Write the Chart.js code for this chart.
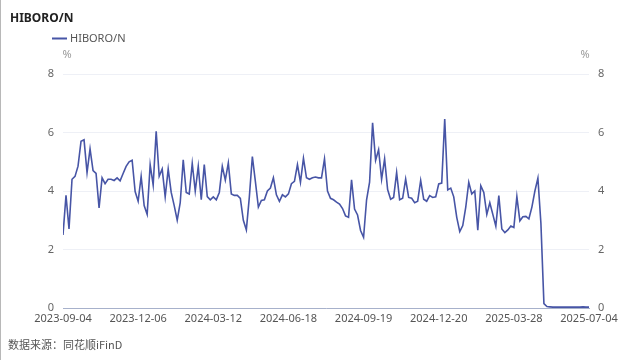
<!DOCTYPE html>
<html>
<head>
<meta charset="utf-8">
<script src="https://cdn.jsdelivr.net/npm/chart.js@4/dist/chart.umd.min.js"></script>
<style>
  html, body { margin: 0; padding: 0; background: #fff; }
  #wrap { position: relative; width: 640px; height: 360px; box-sizing: border-box; border-left: 1px solid #b8b8b8; }
</style>
</head>
<body>
<div id="wrap"><canvas id="grafico" width="639" height="360"></canvas></div>
<script>
// 数据：HIBORO/N（%），每个点对应约 3 个交易日
const seriesName = "HIBORO/N";
const tickLabels = ["2023-09-04", "2023-12-06", "2024-03-12", "2024-06-18",
                    "2024-09-19", "2024-12-20", "2025-03-28", "2025-07-04"];
const hiboroValues = [
  2.5, 3.85, 2.7, 4.4, 4.5, 4.85, 5.7, 5.75, 4.63, 5.44,
  4.7, 4.6, 3.42, 4.45, 4.25, 4.4, 4.4, 4.36, 4.45, 4.35,
  4.6, 4.84, 5.0, 5.05, 3.98, 3.65, 4.5, 3.5, 3.2, 4.9,
  4.2, 6.04, 4.5, 4.75, 3.8, 4.75, 3.95, 3.5, 3.0, 3.6,
  5.07, 3.95, 3.9, 4.94, 4.0, 4.84, 3.7, 4.9, 3.81, 3.7,
  3.8, 3.7, 3.95, 4.84, 4.37, 4.96, 3.9, 3.85, 3.85, 3.75,
  3.0, 2.67, 3.8, 5.18, 4.33, 3.45, 3.68, 3.7, 4.0, 4.1,
  4.45, 3.87, 3.65, 3.87, 3.8, 3.9, 4.25, 4.33, 4.9, 4.3,
  5.12, 4.45, 4.4, 4.45, 4.48, 4.45, 4.45, 5.1, 4.0, 3.75,
  3.7, 3.62, 3.55, 3.4, 3.15, 3.1, 4.38, 3.38, 3.18, 2.65,
  2.42, 3.7, 4.3, 6.33, 5.05, 5.41, 4.4, 5.1, 4.05, 3.72,
  3.78, 4.63, 3.7, 3.75, 4.41, 3.78, 3.75, 3.6, 3.65, 4.36,
  3.72, 3.65, 3.84, 3.78, 3.8, 4.24, 4.27, 6.46, 4.04, 4.1,
  3.8, 3.1, 2.61, 2.82, 3.45, 4.3, 3.9, 4.0, 2.66, 4.18,
  3.95, 3.2, 3.6, 3.2, 2.8, 3.84, 2.7, 2.58, 2.67, 2.8,
  2.75, 3.81, 2.98, 3.12, 3.13, 3.05, 3.45, 4.0, 4.44, 2.9,
  0.15, 0.05, 0.04, 0.03, 0.03, 0.03, 0.03, 0.03, 0.03, 0.03,
  0.03, 0.03, 0.03, 0.04, 0.03, 0.03
];
const yTicks = [0, 2, 4, 6, 8];
const sourceText = "数据来源：同花顺iFinD";

const lineColor = "#4755a6";
const step = (hiboroValues.length - 1) / (tickLabels.length - 1);

Chart.defaults.font.family = "'Noto Sans', 'Noto Sans CJK SC', sans-serif";
Chart.defaults.font.size = 11;

// 标题、图例、单位和数据来源直接画在画布上
const textoExtra = {
  id: "textoExtra",
  afterDraw(chart) {
    const ctx = chart.ctx;
    const area = chart.chartArea;
    ctx.save();
    ctx.textBaseline = "middle";
    ctx.font = "bold 12px 'Noto Sans', sans-serif";
    ctx.fillStyle = "#222";
    ctx.textAlign = "left";
    ctx.fillText(seriesName, 9, 19);

    ctx.strokeStyle = lineColor;
    ctx.lineWidth = 2;
    ctx.beginPath();
    ctx.moveTo(51, 38.5);
    ctx.lineTo(66, 38.5);
    ctx.stroke();
    ctx.font = "11px 'Noto Sans', sans-serif";
    ctx.fillStyle = "#555";
    ctx.fillText(seriesName, 69, 39);

    ctx.fillStyle = "#999";
    ctx.textAlign = "center";
    ctx.fillText("%", area.left + 4, 55);
    ctx.fillText("%", area.right - 4, 55);

    ctx.textAlign = "left";
    ctx.fillStyle = "#555";
    ctx.font = "11px 'Noto Sans CJK SC', 'Noto Sans', sans-serif";
    ctx.fillText(sourceText, 7, 345);
    ctx.restore();
  }
};

const yTickOpts = {
  color: "#666",
  padding: 9,
  stepSize: 2,
  callback: v => (yTicks.includes(v) ? v : "")
};

new Chart(document.getElementById("grafico"), {
  type: "line",
  data: {
    datasets: [{
      label: seriesName,
      data: hiboroValues.map((v, i) => ({ x: i, y: v })),
      borderColor: lineColor,
      borderWidth: 1.6,
      pointRadius: 0,
      tension: 0,
      fill: false
    }]
  },
  options: {
    responsive: false,
    animation: false,
    layout: { padding: { top: 74, left: 0, right: 0, bottom: 0 } },
    plugins: {
      legend: { display: false },
      title: { display: false },
      tooltip: { enabled: false }
    },
    scales: {
      x: {
        type: "linear",
        min: 0,
        max: hiboroValues.length - 1,
        afterFit: s => { s.height = 52; },
        grid: { display: false, drawTicks: false },
        border: { display: true, color: "#a7b1cb", width: 1 },
        ticks: {
          stepSize: step,
          autoSkip: false,
          maxRotation: 0,
          color: "#555",
          padding: 4,
          callback: v => tickLabels[Math.round(v / step)] || ""
        }
      },
      y: {
        position: "left",
        min: 0,
        max: 8,
        afterFit: s => { s.width = 62; },
        grid: { color: "#eef0f6", drawTicks: false },
        border: { display: false },
        ticks: yTickOpts
      },
      y2: {
        position: "right",
        min: 0,
        max: 8,
        afterFit: s => { s.width = 51; },
        grid: { display: false, drawTicks: false },
        border: { display: false },
        ticks: yTickOpts
      }
    }
  },
  plugins: [textoExtra]
});
</script>
</body>
</html>
